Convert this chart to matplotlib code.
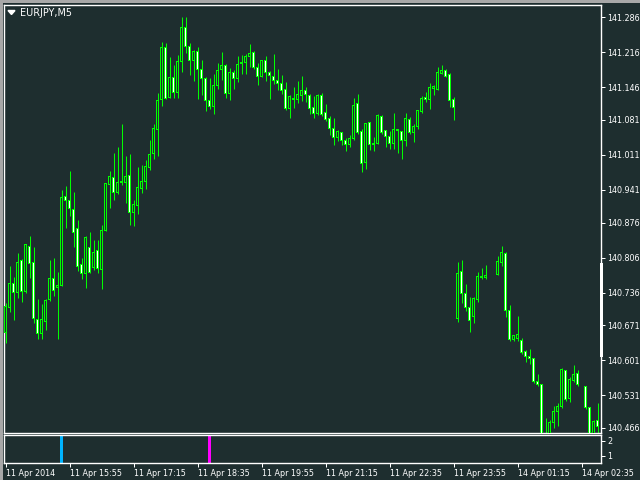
import numpy as np
import matplotlib
matplotlib.use("Agg")
import matplotlib.pyplot as plt
from matplotlib.patches import Rectangle, Polygon

nan = np.nan

# EURJPY M5 candles, one per 5 minutes starting 11 Apr 14:35
opens = [140.656, 140.706, 140.755, 140.737, 140.801, 140.739, 140.829, 140.797, 140.682, 140.654,
         140.678, 140.722, 140.765, 140.747, 140.751, 140.927, 140.919, 140.901, 140.865, 140.793,
         140.775, 140.827, 140.787, 140.821, 140.783, 140.861, 140.951, 140.965, 140.935, 140.955,
         140.955, 140.969, 140.895, 140.909, 140.943, 140.957, 140.985, 141.013, 141.061, 141.122,
         141.226, 141.126, 141.166, 141.136, 141.198, 141.266, 141.228, 141.200, 141.218, 141.182,
         141.164, 141.119, 141.107, 141.150, 141.182, 141.190, 141.134, 141.176, 141.164, 141.194,
         141.196, 141.208, 141.216, 141.186, 141.168, 141.200, 141.176, 141.168, 141.160, 141.154,
         141.142, 141.103, 141.122, 141.122, 141.130, 141.140, 141.130, 141.105, 141.093, 141.130,
         141.095, 141.083, 141.063, 141.045, 141.055, 141.039, 141.031, 141.043, 141.113, 141.057,
         140.995, 141.075, 141.033, 141.033, 141.087, 141.059, 141.047, 141.033, 141.061, 141.057,
         141.039, 141.081, 141.055, 141.067, 141.097, 141.126, 141.121, 141.144, 141.142, 141.174,
         141.180, 141.172, 141.121, 140.684, 140.779, 140.735, 140.706, 140.688, 140.723, 140.767,
         140.767, nan, nan, 140.773, 140.797, 140.815, 140.700, 140.642, 140.644, 140.640,
         140.618, 140.608, 140.604, 140.558, 140.552, 140.445, 140.450, 140.476, 140.498, 140.508,
         140.580, 140.524, 140.560, 140.574, nan, 140.548, 140.506, 140.455, 140.480]

highs = [140.716, 140.789, 140.767, 140.815, 140.803, 140.834, 140.849, 140.827, 140.723, 140.714,
         140.723, 140.801, 140.805, 140.777, 140.941, 140.949, 140.979, 140.937, 140.881, 140.805,
         140.849, 140.857, 140.841, 140.841, 140.871, 140.955, 140.979, 141.015, 141.027, 141.073,
         141.009, 141.013, 140.921, 140.987, 140.991, 141.001, 141.041, 141.073, 141.134, 141.236,
         141.234, 141.206, 141.190, 141.210, 141.286, 141.286, 141.234, 141.220, 141.226, 141.200,
         141.166, 141.164, 141.172, 141.194, 141.216, 141.192, 141.184, 141.180, 141.208, 141.210,
         141.212, 141.232, 141.218, 141.194, 141.200, 141.208, 141.178, 141.212, 141.182, 141.170,
         141.156, 141.130, 141.146, 141.158, 141.168, 141.146, 141.132, 141.128, 141.132, 141.134,
         141.113, 141.089, 141.085, 141.061, 141.057, 141.045, 141.051, 141.124, 141.132, 141.063,
         141.075, 141.077, 141.047, 141.093, 141.091, 141.061, 141.059, 141.095, 141.063, 141.059,
         141.095, 141.087, 141.073, 141.101, 141.128, 141.136, 141.154, 141.150, 141.186, 141.190,
         141.182, 141.174, 141.126, 140.797, 140.801, 140.753, 140.727, 140.727, 140.777, 140.785,
         140.791, nan, nan, 140.809, 140.829, 140.817, 140.712, 140.650, 140.690, 140.646,
         140.622, 140.624, 140.606, 140.574, 140.554, 140.486, 140.482, 140.510, 140.516, 140.586,
         140.582, 140.568, 140.592, 140.582, nan, 140.550, 140.508, 140.482, 140.516]

lows = [140.636, 140.698, 140.682, 140.725, 140.718, 140.736, 140.765, 140.676, 140.644, 140.644,
        140.662, 140.720, 140.729, 140.644, 140.749, 140.865, 140.889, 140.827, 140.779, 140.763,
        140.745, 140.775, 140.781, 140.775, 140.743, 140.859, 140.905, 140.921, 140.933, 140.951,
        140.915, 140.871, 140.869, 140.893, 140.935, 140.943, 140.981, 141.003, 141.009, 141.109,
        141.122, 141.124, 141.124, 141.124, 141.176, 141.214, 141.170, 141.158, 141.122, 141.130,
        141.099, 141.103, 141.093, 141.142, 141.160, 141.124, 141.121, 141.142, 141.156, 141.172,
        141.172, 141.186, 141.182, 141.150, 141.166, 141.158, 141.122, 141.152, 141.140, 141.132,
        141.101, 141.085, 141.105, 141.115, 141.119, 141.117, 141.093, 141.085, 141.091, 141.089,
        141.079, 141.051, 141.031, 141.039, 141.031, 141.019, 141.027, 141.041, 141.053, 140.977,
        140.983, 141.021, 141.019, 141.033, 141.053, 141.027, 141.023, 141.023, 141.015, 141.003,
        141.029, 141.053, 141.037, 141.063, 141.095, 141.117, 141.103, 141.130, 141.140, 141.172,
        141.166, 141.107, 141.081, 140.678, 140.716, 140.700, 140.658, 140.676, 140.718, 140.763,
        140.763, nan, nan, 140.771, 140.789, 140.688, 140.640, 140.640, 140.640, 140.614,
        140.598, 140.594, 140.556, 140.550, 140.435, 140.430, 140.440, 140.466, 140.470, 140.506,
        140.520, 140.518, 140.558, 140.550, nan, 140.504, 140.445, 140.448, 140.455]

closes = [140.708, 140.755, 140.737, 140.797, 140.739, 140.833, 140.795, 140.684, 140.654, 140.682,
          140.720, 140.765, 140.741, 140.751, 140.925, 140.919, 140.903, 140.857, 140.789, 140.775,
          140.847, 140.777, 140.817, 140.785, 140.861, 140.953, 140.967, 140.935, 140.955, 140.957,
          140.967, 140.895, 140.911, 140.945, 140.957, 140.987, 141.011, 141.063, 141.119, 141.226,
          141.124, 141.166, 141.136, 141.198, 141.266, 141.228, 141.200, 141.218, 141.182, 141.164,
          141.119, 141.107, 141.150, 141.180, 141.190, 141.134, 141.176, 141.164, 141.192, 141.196,
          141.208, 141.214, 141.186, 141.168, 141.200, 141.176, 141.170, 141.160, 141.154, 141.140,
          141.103, 141.128, 141.121, 141.132, 141.140, 141.132, 141.103, 141.093, 141.130, 141.091,
          141.081, 141.063, 141.045, 141.057, 141.039, 141.031, 141.043, 141.109, 141.055, 140.993,
          141.073, 141.031, 141.031, 141.089, 141.055, 141.047, 141.033, 141.061, 141.059, 141.039,
          141.083, 141.055, 141.067, 141.099, 141.124, 141.121, 141.146, 141.148, 141.176, 141.180,
          141.168, 141.119, 141.105, 140.775, 140.735, 140.706, 140.680, 140.725, 140.769, 140.769,
          140.771, nan, nan, 140.799, 140.817, 140.700, 140.642, 140.650, 140.652, 140.616,
          140.608, 140.604, 140.558, 140.552, 140.440, 140.455, 140.476, 140.498, 140.508, 140.582,
          140.522, 140.562, 140.572, 140.552, nan, 140.506, 140.450, 140.478, 140.468]

price_ticks = [141.286, 141.216, 141.146, 141.081, 141.011, 140.941, 140.876,
               140.806, 140.736, 140.671, 140.601, 140.531, 140.466]

time_ticks = [0, 16, 32, 48, 64, 80, 96, 112, 128, 144]
time_labels = ["11 Apr 2014", "11 Apr 15:55", "11 Apr 17:15", "11 Apr 18:35", "11 Apr 19:55",
               "11 Apr 21:15", "11 Apr 22:35", "11 Apr 23:55", "14 Apr 01:15", "14 Apr 02:35"]

# indicator sub-window: bar index, value, colour
signal_bars = [14, 51]
signal_values = [2.5, 2.5]
signal_colors = ["#00b4ff", "#ff00ff"]

bg = "#1e2e2f"
green = "#00ff00"
fg = "white"
px = 0.72  # one pixel in points

fig = plt.figure(figsize=(6.4, 4.8), dpi=100, facecolor=bg)

ax = fig.add_axes([4 / 640, 1 - 433 / 480, 597 / 640, 428.5 / 480])
sub = fig.add_axes([4 / 640, 1 - 463 / 480, 597 / 640, 28.5 / 480])

x0 = -0.375
x1 = x0 + 597 / 4
for a in (ax, sub):
    a.set_facecolor(bg)
    for s in a.spines.values():
        s.set_color(fg)
        s.set_linewidth(1.0)
    a.set_xlim(x0, x1)
    a.tick_params(colors=fg, labelcolor=fg, labelsize=5.8, width=px, length=3)

ymin, ymax = 140.456, 141.311
ppx = (ymax - ymin) / 428.5  # price per pixel

# candles: green body with 1px core, dark core for up bars, white core for down bars
idx = [i for i in range(len(opens)) if not np.isnan(opens[i])]
o = np.array([opens[i] for i in idx])
h = np.array([highs[i] for i in idx])
l = np.array([lows[i] for i in idx])
c = np.array([closes[i] for i in idx])
top = np.maximum(o, c)
bot = np.minimum(o, c)
bh = np.maximum(top - bot, ppx)

ax.vlines(idx, l, h, color=green, linewidth=px, zorder=2)
ax.bar(idx, bh + ppx, bottom=bot - ppx / 2, width=0.75, color=green, linewidth=0, zorder=3)
inner_h = bh - ppx
core = [fg if cc < oo else bg for oo, cc in zip(o, c)]
mask = inner_h > 0
ax.bar(np.array(idx)[mask], inner_h[mask], bottom=(bot + ppx / 2)[mask], width=0.25,
       color=np.array(core)[mask], linewidth=0, zorder=4)

ax.set_ylim(ymin, ymax)
ax.yaxis.tick_right()
ax.set_yticks(price_ticks)
ax.set_yticklabels(["%.3f" % p for p in price_ticks])
ax.tick_params(axis="y", pad=1.5)
ax.set_xticks([])

# symbol caption with the small drop-down triangle
ax.text(16 / 597, 1 - 8 / 428.5, "EURJPY,M5", transform=ax.transAxes, color=fg,
        fontsize=6.9, ha="left", va="center")
ax.add_patch(Polygon([[4 / 597, 1 - 6 / 428.5], [11 / 597, 1 - 6 / 428.5], [7.5 / 597, 1 - 10 / 428.5]],
                     closed=True, transform=ax.transAxes, color=fg, zorder=5))

# indicator window
sub.bar(signal_bars, signal_values, width=0.75, color=signal_colors, bottom=0)
sub.set_ylim(0.53, 2.43)
sub.yaxis.tick_right()
sub.set_yticks([1, 2])
sub.set_yticklabels(["1", "2"])
sub.tick_params(axis="y", pad=1.5)
sub.set_xticks(time_ticks)
sub.set_xticklabels(time_labels, ha="left")
sub.tick_params(axis="x", pad=1.5)

# window chrome
fig.patches.append(Rectangle((0, 1 - 3 / 480), 1, 3 / 480, transform=fig.transFigure,
                             facecolor="#a8a8a8", edgecolor="none", zorder=10))
fig.patches.append(Rectangle((0, 0), 3 / 640, 1, transform=fig.transFigure,
                             facecolor="#a8a8a8", edgecolor="none", zorder=10))
fig.patches.append(Rectangle((600 / 640, 1 - 357 / 480), 3 / 640, 94 / 480, transform=fig.transFigure,
                             facecolor="white", edgecolor="none", zorder=10))

fig.savefig("out.png", dpi=100, facecolor=bg)
